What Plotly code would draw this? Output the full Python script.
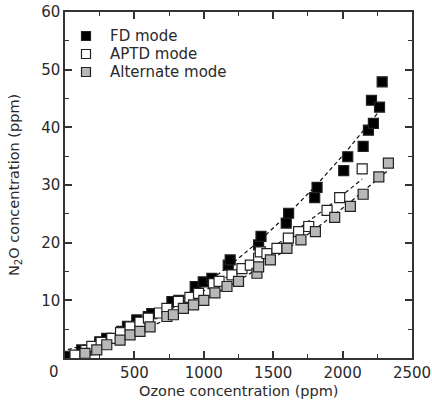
import numpy as np
import plotly.graph_objects as go

# FD mode
fd_x = [20, 120, 250, 300, 409, 450, 517, 600, 625, 770, 820, 938, 996, 1058,
        1176, 1190, 1395, 1412, 1594, 1611, 1799, 1816, 2008, 2037, 2148, 2186,
        2208, 2222, 2266, 2285]
fd_y = [0.3, 1.4, 2.8, 3.4, 4.6, 5.5, 6.6, 7.2, 7.7, 9.8, 10.0, 12.4, 13.2, 13.8,
        16.1, 17.0, 19.6, 21.1, 23.4, 25.1, 27.8, 29.6, 32.5, 34.9, 36.7, 39.5,
        44.7, 40.7, 43.5, 47.9]

# APTD mode
ap_x = [72, 150, 193, 260, 337, 400, 469, 540, 601, 680, 734, 817, 900, 962,
        1070, 1110, 1203, 1275, 1335, 1395, 1407, 1455, 1527, 1609, 1683, 1756,
        1888, 1979, 2141]
ap_y = [0.5, 1.3, 2.0, 2.7, 3.4, 4.4, 5.4, 6.2, 6.9, 7.8, 8.6, 9.8, 10.5, 11.2,
        12.9, 13.3, 14.4, 15.5, 16.1, 17.3, 18.4, 18.1, 19.0, 20.8, 21.9, 22.8,
        25.6, 27.8, 32.8]

# Alternate mode
al_x = [144, 229, 301, 397, 469, 540, 613, 734, 781, 853, 926, 1000, 1080, 1167,
        1250, 1383, 1395, 1480, 1599, 1700, 1804, 1943, 2056, 2148, 2261, 2330]
al_y = [0.8, 1.4, 2.3, 3.1, 4.0, 4.6, 5.4, 7.2, 7.5, 8.6, 9.2, 10.0, 11.3, 12.4,
        13.3, 14.7, 15.8, 17.0, 19.0, 20.5, 21.9, 24.4, 26.3, 28.4, 31.4, 33.8]

series_names = ["FD mode", "APTD mode", "Alternate mode"]
series_colors = ["#000000", "#ffffff", "#b8b8b8"]
series = list(zip(series_names, [fd_x, ap_x, al_x], [fd_y, ap_y, al_y], series_colors))

x_ticks = [500, 1000, 1500, 2000, 2500]
y_ticks = [10, 20, 30, 40, 50, 60]
x_title = "Ozone concentration (ppm)"
y_title = "N<sub>2</sub>O concentration (ppm)"

FONT = "DejaVu Sans"
TXT = "#2a2a2a"
fig = go.Figure()

# dashed quadratic fits through each data set
for name, xs, ys, col in series:
    xs_a = np.array(xs, float)
    ys_a = np.array(ys, float)
    c = np.polyfit(xs_a, ys_a, 2)
    xf = np.sort(xs_a)
    fig.add_trace(go.Scatter(x=xf, y=np.polyval(c, xf), mode="lines",
                             line=dict(color="#111", width=1.2, dash="4px,3px"),
                             showlegend=False, hoverinfo="skip"))

for name, xs, ys, col in series:
    fig.add_trace(go.Scatter(x=xs, y=ys, mode="markers", name=name, showlegend=False,
                             marker=dict(symbol="square", size=10, color=col,
                                         line=dict(color="#222", width=1.2))))

axis_common = dict(showline=True, linecolor="#333", linewidth=1.5, mirror="ticks",
                   ticks="inside", ticklen=7, tickwidth=1.5, tickcolor="#333",
                   showgrid=False, zeroline=False, automargin=False,
                   tickfont=dict(family=FONT, size=15, color=TXT))

fig.update_xaxes(range=[0, 2500], tickvals=x_ticks, ticktext=[str(v) for v in x_ticks],
                 minor=dict(ticks="inside", ticklen=4, tickwidth=1.2, dtick=250,
                            tickcolor="#333"),
                 **axis_common)
fig.update_yaxes(range=[0, 60], tickvals=y_ticks, ticktext=[str(v) for v in y_ticks],
                 minor=dict(ticks="inside", ticklen=4, tickwidth=1.2, dtick=5,
                            tickcolor="#333"),
                 **axis_common)

PW, PH = 347.0, 346.0

# axis titles
fig.add_annotation(text=x_title, xref="paper", yref="paper", x=0.5, y=-33.0 / PH,
                   xanchor="center", yanchor="middle", showarrow=False,
                   font=dict(family=FONT, size=14.5, color=TXT))
fig.add_annotation(text=y_title, xref="paper", yref="paper", x=-50.0 / PW, y=0.5,
                   xanchor="center", yanchor="middle", textangle=-90, showarrow=False,
                   font=dict(family=FONT, size=14.5, color=TXT))

# shared origin label
fig.add_annotation(text="0", xref="paper", yref="paper", x=-0.032, y=0,
                   xanchor="center", yanchor="top", yshift=-3, showarrow=False,
                   font=dict(family=FONT, size=15, color=TXT))

# legend drawn manually (tight line spacing as in the reference)
leg_cx, leg_y0, leg_dy, box = 21.0, 322.0, 18.0, 9.0
for i, (name, col) in enumerate(zip(series_names, series_colors)):
    cy = leg_y0 - i * leg_dy
    fig.add_shape(type="rect", xref="paper", yref="paper",
                  x0=(leg_cx - box / 2) / PW, x1=(leg_cx + box / 2) / PW,
                  y0=(cy - box / 2) / PH, y1=(cy + box / 2) / PH,
                  fillcolor=col, line=dict(color="#222", width=1.2))
    fig.add_annotation(text=name, xref="paper", yref="paper",
                       x=44.0 / PW, y=cy / PH, xanchor="left", yanchor="middle",
                       showarrow=False, borderpad=0,
                       font=dict(family=FONT, size=15, color=TXT))

fig.update_layout(
    width=432, height=404,
    margin=dict(l=65, r=20, t=12, b=46),
    paper_bgcolor="white", plot_bgcolor="white",
    showlegend=False,
)

fig.write_html("out.html")
